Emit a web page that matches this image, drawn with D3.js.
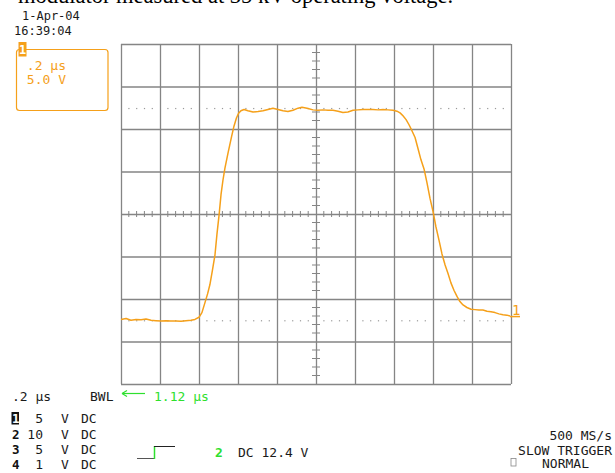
<!DOCTYPE html>
<html>
<head>
<meta charset="utf-8">
<script src="https://cdn.jsdelivr.net/npm/d3@7"></script>
<style>
  html, body { margin: 0; padding: 0; background: #fff; overflow: hidden; }
  svg text { font-family: "DejaVu Sans Mono", monospace; fill: #1a1a1a; }
</style>
</head>
<body>
<svg id="SVG_CONTAINER" width="615" height="473"></svg>
<script>
let d3 = window.d3;

// time in microseconds (0.2 us / div, 10 divs)
const timeUs = [0.000, 0.026, 0.051, 0.077, 0.103, 0.128, 0.154, 0.179, 0.205, 0.231,
  0.256, 0.282, 0.308, 0.333, 0.359, 0.379, 0.400, 0.415, 0.431, 0.444,
  0.456, 0.469, 0.482, 0.492, 0.503, 0.513, 0.523, 0.533, 0.549, 0.567,
  0.579, 0.592, 0.603, 0.615, 0.631, 0.651, 0.677, 0.703, 0.728, 0.754,
  0.779, 0.805, 0.831, 0.856, 0.882, 0.908, 0.928, 0.954, 0.985, 1.010,
  1.036, 1.062, 1.087, 1.113, 1.138, 1.164, 1.190, 1.215, 1.241, 1.267,
  1.292, 1.318, 1.344, 1.369, 1.395, 1.415, 1.431, 1.446, 1.462, 1.477,
  1.492, 1.508, 1.523, 1.538, 1.554, 1.569, 1.585, 1.600, 1.615, 1.631,
  1.646, 1.662, 1.677, 1.692, 1.708, 1.723, 1.738, 1.754, 1.774, 1.795,
  1.815, 1.836, 1.856, 1.877, 1.897, 1.918, 1.938, 1.959, 1.979, 1.995];

// channel 1 voltage (5 V / div)
const voltsCh1 = [-12.40, -12.30, -12.50, -12.40, -12.45, -12.35, -12.50, -12.55, -12.60, -12.55,
  -12.60, -12.60, -12.62, -12.55, -12.50, -12.40, -12.15, -11.60, -10.40, -9.40,
  -8.30, -6.60, -4.80, -2.40, -0.10, 2.30, 4.00, 5.40, 7.20, 9.10,
  10.30, 11.30, 11.85, 12.15, 12.30, 12.15, 12.00, 12.05, 12.15, 12.30,
  12.45, 12.30, 12.15, 12.05, 12.20, 12.45, 12.55, 12.45, 12.25, 12.20,
  12.25, 12.20, 12.20, 12.10, 11.95, 12.00, 12.20, 12.25, 12.30, 12.30,
  12.30, 12.25, 12.30, 12.25, 12.20, 12.10, 11.90, 11.55, 11.10, 10.50,
  9.80, 9.00, 7.70, 6.40, 5.30, 3.70, 1.80, 0.30, -1.50, -3.10,
  -4.70, -6.00, -7.00, -8.10, -9.00, -9.70, -10.30, -10.70, -11.00, -11.20,
  -11.25, -11.30, -11.30, -11.45, -11.50, -11.60, -11.75, -11.85, -11.90, -12.00];

// cursor reference levels (dotted)
const refLevels = [12.42, -12.55];

const timeTicks = d3.range(0, 11).map(i => i * 0.2);
const voltTicks = d3.range(-4, 5).map(i => i * 5);
const minorTime = d3.range(0, 51).map(i => i * 0.04);
const minorVolt = d3.range(-20, 21).map(i => i);

const channelRows = [
  { ch: "1", scale: "5", unit: "V", cpl: "DC" },
  { ch: "2", scale: "10", unit: "V", cpl: "DC" },
  { ch: "3", scale: "5", unit: "V", cpl: "DC" },
  { ch: "4", scale: "1", unit: "V", cpl: "DC" }
];

const ORANGE = "#f5a01a";
const GREEN = "#2ee02e";
const GRID = "#858585";

const PLOT = { LEFT: 121, RIGHT: 511, TOP: 44, BOTTOM: 384 };

let svg = d3.select("#SVG_CONTAINER");

let x = d3.scaleLinear().domain([0, 2]).range([PLOT.LEFT, PLOT.RIGHT]);
let y = d3.scaleLinear().domain([-20, 20]).range([PLOT.BOTTOM, PLOT.TOP]);

// title text cut off at the top
svg.append("text")
  .attr("x", 18).attr("y", 3)
  .style("font-family", "'Liberation Serif', serif")
  .style("font-size", "22.5px")
  .style("fill", "#000")
  .text("modulator measured at 35 kV operating voltage.");

// date / time
svg.append("text").attr("x", 22).attr("y", 19.5).style("font-size", "12px").text("1-Apr-04");
svg.append("text").attr("x", 14).attr("y", 35).style("font-size", "12px").text("16:39:04");

// grid
let grid = svg.append("g").attr("id", "grid");

grid.append("g")
  .attr("transform", "translate(0," + PLOT.BOTTOM + ")")
  .call(d3.axisBottom(x).tickValues(timeTicks).tickSize(PLOT.BOTTOM - PLOT.TOP).tickSizeOuter(0).tickFormat(""))
  .call(g => g.select(".domain").remove())
  .call(g => g.selectAll(".tick line")
    .attr("y2", -(PLOT.BOTTOM - PLOT.TOP))
    .attr("stroke", GRID).attr("stroke-width", 1.3));

grid.append("g")
  .attr("transform", "translate(" + PLOT.LEFT + ",0)")
  .call(d3.axisLeft(y).tickValues(voltTicks).tickSize(-(PLOT.RIGHT - PLOT.LEFT)).tickSizeOuter(0).tickFormat(""))
  .call(g => g.select(".domain").remove())
  .call(g => g.selectAll(".tick line").attr("stroke", GRID).attr("stroke-width", 1.3));

// minor ticks on centre axes
grid.append("g").selectAll("line")
  .data(minorTime.filter(t => Math.abs(t / 0.2 - Math.round(t / 0.2)) > 1e-6))
  .enter().append("line")
  .attr("x1", d => x(d)).attr("x2", d => x(d))
  .attr("y1", y(0) - 3).attr("y2", y(0) + 3)
  .attr("stroke", GRID).attr("stroke-width", 1);

grid.append("g").selectAll("line")
  .data(minorVolt.filter(v => v % 5 !== 0))
  .enter().append("line")
  .attr("x1", x(1) - 4).attr("x2", x(1) + 4)
  .attr("y1", d => y(d)).attr("y2", d => y(d))
  .attr("stroke", GRID).attr("stroke-width", 1);

// dotted reference levels
refLevels.forEach(function (lvl) {
  grid.append("g").selectAll("rect")
    .data(minorTime.filter(t => Math.abs(t / 0.2 - Math.round(t / 0.2)) > 1e-6))
    .enter().append("rect")
    .attr("x", d => x(d) - 0.5).attr("y", y(lvl) - 0.5)
    .attr("width", 1.2).attr("height", 1.2)
    .attr("fill", "#999");
});

// trace
let line = d3.line()
  .x((d, i) => x(timeUs[i]))
  .y(d => y(d));

svg.append("path")
  .datum(voltsCh1)
  .attr("d", line)
  .attr("fill", "none")
  .attr("stroke", ORANGE)
  .attr("stroke-width", 1.5)
  .attr("stroke-linejoin", "round");

// channel 1 ground marker on right
let gnd = y(-11.95);
svg.append("text")
  .attr("x", PLOT.RIGHT + 1).attr("y", gnd - 1)
  .style("font-size", "14px").style("fill", ORANGE)
  .text("1");
svg.append("line")
  .attr("x1", PLOT.RIGHT - 1).attr("x2", PLOT.RIGHT + 9)
  .attr("y1", gnd + 1).attr("y2", gnd + 1)
  .attr("stroke", ORANGE).attr("stroke-width", 1.5);

// scale box
svg.append("rect")
  .attr("x", 16.5).attr("y", 49.5).attr("width", 91.5).attr("height", 61).attr("rx", 3)
  .attr("fill", "none").attr("stroke", ORANGE).attr("stroke-width", 1.2);
svg.append("rect")
  .attr("x", 18.5).attr("y", 42).attr("width", 8).attr("height", 14.5)
  .attr("fill", ORANGE);
svg.append("text").attr("x", 19).attr("y", 54)
  .style("font-size", "12px").style("font-weight", "bold").style("fill", "#fff").text("1");
svg.append("text").attr("x", 66).attr("y", 70).attr("text-anchor", "end")
  .style("font-size", "13px").style("fill", ORANGE).text(".2 µs");
svg.append("text").attr("x", 66).attr("y", 83.5).attr("text-anchor", "end")
  .style("font-size", "13px").style("fill", ORANGE).text("5.0 V");

// bottom status
svg.append("text").attr("x", 12).attr("y", 401).style("font-size", "13px").text(".2 µs");
svg.append("text").attr("x", 90).attr("y", 401).style("font-size", "13px").text("BWL");

svg.append("line")
  .attr("x1", PLOT.LEFT + 2).attr("x2", 145).attr("y1", 393.5).attr("y2", 393.5)
  .attr("stroke", GREEN).attr("stroke-width", 1.2);
svg.append("path")
  .attr("d", "M" + (PLOT.LEFT + 1) + ",393.5 l5,-3 M" + (PLOT.LEFT + 1) + ",393.5 l5,3")
  .attr("stroke", GREEN).attr("stroke-width", 1.2).attr("fill", "none");
svg.append("text").attr("x", 154).attr("y", 401)
  .style("font-size", "13px").style("fill", GREEN).text("1.12 µs");

let rows = svg.append("g").selectAll("g")
  .data(channelRows)
  .enter().append("g")
  .attr("transform", (d, i) => "translate(0," + [423, 438.5, 454, 469][i] + ")");

rows.filter(d => d.ch === "1").append("rect")
  .attr("x", 11.5).attr("y", -11).attr("width", 7.5).attr("height", 12.5).attr("fill", "#111");
rows.append("text").attr("x", 12).attr("y", 0)
  .style("font-size", "12.5px").style("font-weight", "bold")
  .style("fill", d => d.ch === "1" ? "#fff" : "#111")
  .text(d => d.ch);
rows.append("text").attr("x", 43).attr("y", 0).attr("text-anchor", "end")
  .style("font-size", "13px").text(d => d.scale);
rows.append("text").attr("x", 61).attr("y", 0).style("font-size", "13px").text(d => d.unit);
rows.append("text").attr("x", 81).attr("y", 0).style("font-size", "13px").text(d => d.cpl);

// trigger symbol
svg.append("line").attr("x1", 137).attr("x2", 154).attr("y1", 458.5).attr("y2", 458.5)
  .attr("stroke", "#555").attr("stroke-width", 1);
svg.append("line").attr("x1", 154.5).attr("x2", 154.5).attr("y1", 459).attr("y2", 446)
  .attr("stroke", GREEN).attr("stroke-width", 1.5);
svg.append("line").attr("x1", 154).attr("x2", 175).attr("y1", 446.5).attr("y2", 446.5)
  .attr("stroke", "#222").attr("stroke-width", 1);

svg.append("text").attr("x", 215).attr("y", 457)
  .style("font-size", "13px").style("font-weight", "bold").style("fill", GREEN).text("2");
svg.append("text").attr("x", 238).attr("y", 457).style("font-size", "13px").text("DC 12.4 V");

svg.append("text").attr("x", 612).attr("y", 440).attr("text-anchor", "end")
  .style("font-size", "13px").text("500 MS/s");
svg.append("text").attr("x", 612).attr("y", 454.5).attr("text-anchor", "end")
  .style("font-size", "13px").text("SLOW TRIGGER");
svg.append("rect").attr("x", 511).attr("y", 458.5).attr("width", 5).attr("height", 7.5)
  .attr("fill", "none").attr("stroke", "#888").attr("stroke-width", 0.8);
svg.append("text").attr("x", 542).attr("y", 468).style("font-size", "13px").text("NORMAL");
</script>
</body>
</html>
